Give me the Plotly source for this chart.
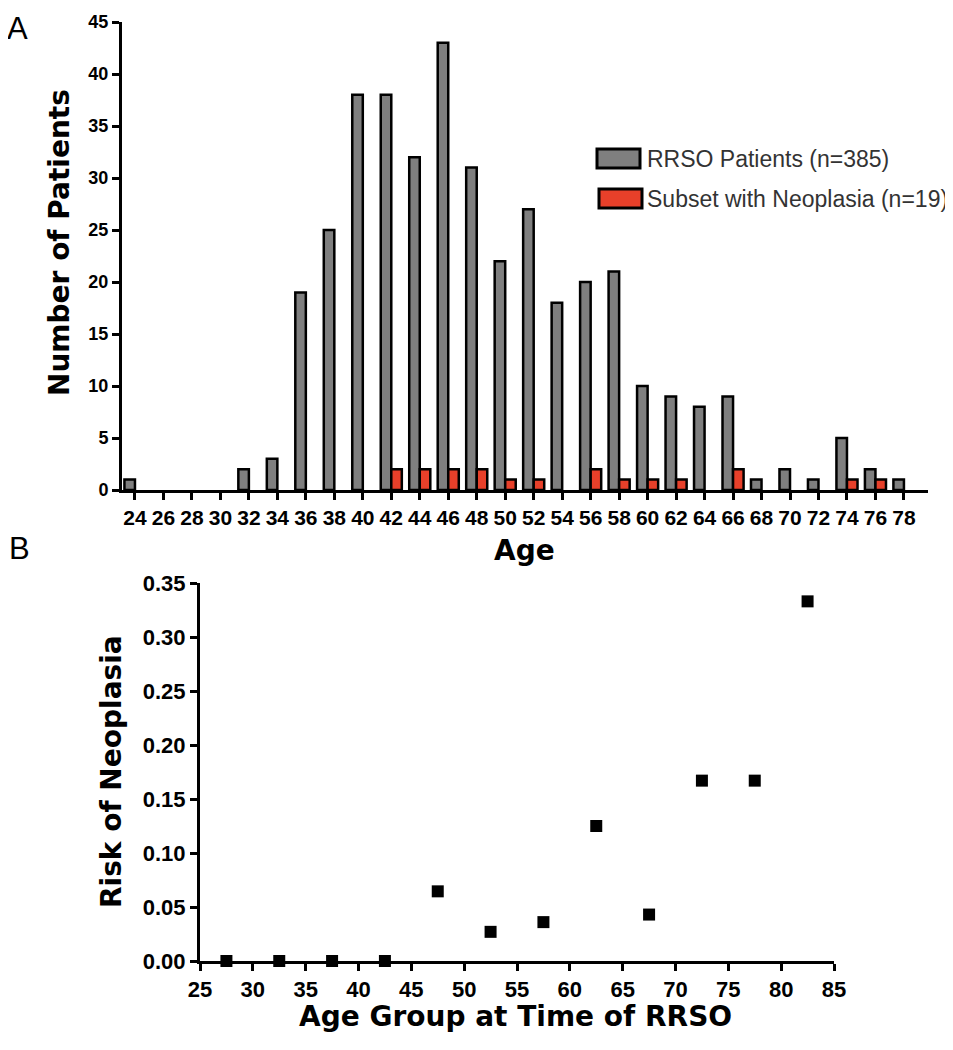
import plotly.graph_objects as go

# ---------------- data ----------------
ages = [24, 26, 28, 30, 32, 34, 36, 38, 40, 42, 44, 46, 48, 50,
        52, 54, 56, 58, 60, 62, 64, 66, 68, 70, 72, 74, 76, 78]
rrso_patients = [1, 0, 0, 0, 2, 3, 19, 25, 38, 38, 32, 43, 31, 22,
                 27, 18, 20, 21, 10, 9, 8, 9, 1, 2, 1, 5, 2, 1]
neoplasia = [0, 0, 0, 0, 0, 0, 0, 0, 0, 2, 2, 2, 2, 1,
             1, 0, 2, 1, 1, 1, 0, 2, 0, 0, 0, 1, 1, 0]

age_groups = [27.5, 32.5, 37.5, 42.5, 47.5, 52.5, 57.5, 62.5, 67.5, 72.5, 77.5, 82.5]
risk = [0.0, 0.0, 0.0, 0.0, 0.0645, 0.027, 0.036, 0.125, 0.043, 0.167, 0.167, 0.333]

top_yticks = [0, 5, 10, 15, 20, 25, 30, 35, 40, 45]
bottom_yticks = [0.0, 0.05, 0.10, 0.15, 0.20, 0.25, 0.30, 0.35]
bottom_xticks = [25, 30, 35, 40, 45, 50, 55, 60, 65, 70, 75, 80, 85]

W, H = 953, 1050
OFF = 8  # page body margin offset
def px(x):
    return (x - OFF) / W
def py(y):
    return 1 - (y - OFF) / H

FONT = "Liberation Sans"
TFONT = "DejaVu Sans"

fig = go.Figure()

fig.add_trace(go.Bar(
    x=ages, y=rrso_patients, name="RRSO Patients (n=385)",
    marker=dict(color="#7f7f7f",
                line=dict(color="black", width=[2.5 if v else 0 for v in rrso_patients])),
    xaxis="x", yaxis="y", showlegend=False))
fig.add_trace(go.Bar(
    x=ages, y=neoplasia, name="Subset with Neoplasia (n=19)",
    marker=dict(color="#e8402a",
                line=dict(color="black", width=[2.5 if v else 0 for v in neoplasia])),
    xaxis="x", yaxis="y", showlegend=False))

fig.add_trace(go.Scatter(
    x=age_groups, y=risk, mode="markers",
    marker=dict(symbol="square", size=12, color="black"),
    xaxis="x2", yaxis="y2", showlegend=False, cliponaxis=False))

axis_common = dict(showline=True, linecolor="black", linewidth=3,
                   ticks="outside", tickcolor="black", tickwidth=3, ticklen=7,
                   showgrid=False, zeroline=False, automargin=False)

fig.update_layout(
    width=W, height=H,
    margin=dict(l=0, r=0, t=0, b=0, pad=0, autoexpand=False),
    paper_bgcolor="white", plot_bgcolor="white",
    barmode="group", bargap=0.26, bargroupgap=0,
    xaxis=dict(domain=[px(122), px(928)], range=[23.09, 79.69],
               tickmode="array", tickvals=ages, ticktext=[str(a) for a in ages],
               tickfont=dict(family=FONT, size=21, color="black", weight="bold"),
               anchor="y", **axis_common),
    yaxis=dict(domain=[py(490), py(22)], range=[0, 45],
               tickmode="array", tickvals=top_yticks,
               tickfont=dict(family=FONT, size=18, color="black", weight="bold"),
               anchor="x", **axis_common),
    xaxis2=dict(domain=[px(200), px(834)], range=[25, 85],
                tickmode="array", tickvals=bottom_xticks,
                tickfont=dict(family=FONT, size=22, color="black", weight="bold"),
                anchor="y2", **axis_common),
    yaxis2=dict(domain=[py(961), py(583)], range=[0, 0.35],
                tickmode="array", tickvals=bottom_yticks,
                ticktext=["%.2f" % v for v in bottom_yticks],
                tickfont=dict(family=FONT, size=22, color="black", weight="bold"),
                anchor="x2", **axis_common),
)

ann = []
def text(x, y, s, size, bold=True, angle=0, color="black", xanchor="center",
         yanchor="middle", family=FONT):
    ann.append(dict(x=px(x), y=py(y), xref="paper", yref="paper", text=s,
                    showarrow=False, textangle=angle, xanchor=xanchor, yanchor=yanchor,
                    font=dict(family=family, size=size, color=color,
                              weight="bold" if bold else "normal")))

text(17, 9, "A", 31, bold=False, yanchor="top")
text(19, 548, "B", 31, bold=False)
text(60, 243, "Number of Patients", 28, angle=-90, family=TFONT)
text(524, 550, "Age", 28, family=TFONT)
text(111, 772, "Risk of Neoplasia", 28, angle=-90, family=TFONT)
text(515, 1016, "Age Group at Time of RRSO", 28, family=TFONT)
text(645, 159, "RRSO Patients (n=385)", 23, bold=False, color="#333333", xanchor="left")
text(645, 199, "Subset with Neoplasia (n=19)", 23, bold=False, color="#333333", xanchor="left")
fig.update_layout(annotations=ann)

fig.update_layout(shapes=[
    dict(type="rect", xref="paper", yref="paper",
         x0=px(597), x1=px(640), y0=py(168), y1=py(149),
         fillcolor="#7f7f7f", line=dict(color="black", width=3)),
    dict(type="rect", xref="paper", yref="paper",
         x0=px(599), x1=px(642), y0=py(208), y1=py(189),
         fillcolor="#e8402a", line=dict(color="black", width=3)),
])

fig.write_html("out.html")
